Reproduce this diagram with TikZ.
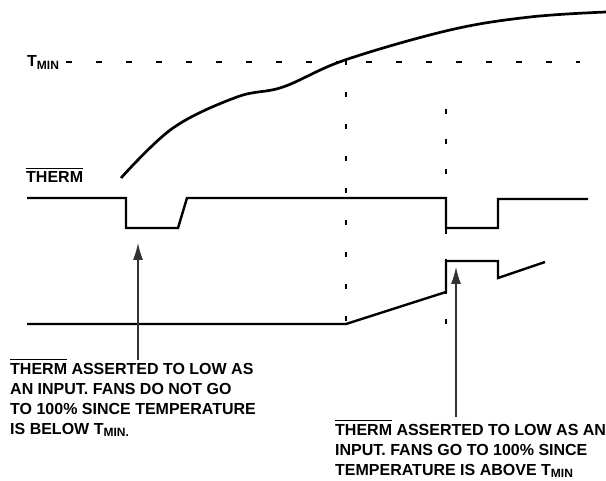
\documentclass[tikz,border=0pt]{standalone}
\usepackage{fontspec}
\setmainfont{Liberation Sans}
\usetikzlibrary{arrows.meta}
\newcommand\barred[1]{\vbox{\hrule height 0.9pt\kern 3.2pt\hbox{#1}}}
\newcommand\lowidx[1]{\raisebox{-2.5pt}{\fontsize{12}{12}\selectfont #1}}
\begin{document}
\begin{tikzpicture}[x=1pt, y=-1pt,
  trace/.style={line width=2.4pt},
  guide/.style={line width=1.6pt},
  pointer/.style={line width=1.1pt, draw=black!80, -{Latex[length=17pt,width=10pt]}},
  note/.style={font=\fontsize{16}{20}\selectfont\bfseries, align=left, inner sep=0pt}]
\useasboundingbox (0,0) rectangle (606,481);
% labels
\node[note, anchor=base west] (tmin) at (27,67) {T\lowidx{MIN}};
\node[note, anchor=base west] (therm) at (26,183) {\barred{THERM}};
% T_MIN level and time markers
\draw[guide, dash pattern=on 6pt off 24pt] (66,62) -- (580,62);
\draw[guide, dash pattern=on 5pt off 27pt] (346,60) -- (346,324);
\draw[guide, dash pattern=on 5pt off 25pt] (446,109) -- (446,325);
% temperature
\draw[trace, line width=2.7pt] plot[smooth, tension=0.6] coordinates {(121,178) (173,128) (237,97) (283,87) (345,60) (450,30) (530,17) (606,12)};
% THERM input
\draw[trace] (27,198) -- (126,198) -- (126,228) -- (178,228) -- (187,198) -- (446,198)
  -- (446,228) -- (498,228) -- (498,199) -- (588,199);
% fan drive
\draw[trace] (27,324) -- (346,324) -- (446,292) -- (446,261) -- (498,261) -- (498,278) -- (545,262);
% notes
\coordinate (low1) at (138,243);
\coordinate (fanup) at (456,267);
\node[note, anchor=north west] (note1) at (10,359) {\barred{THERM} ASSERTED TO LOW AS\\AN INPUT. FANS DO NOT GO\\TO 100\% SINCE TEMPERATURE\\IS BELOW T\lowidx{MIN.}};
\node[note, anchor=north west] (note2) at (335,420) {\barred{THERM} ASSERTED TO LOW AS AN\\INPUT. FANS GO TO 100\% SINCE\\TEMPERATURE IS ABOVE T\lowidx{MIN}};
\draw[pointer] (note1.north -| low1) ++(0,1) -- (low1);
\draw[pointer] (note2.north -| fanup) ++(0,-3) -- (fanup);
\end{tikzpicture}
\end{document}
